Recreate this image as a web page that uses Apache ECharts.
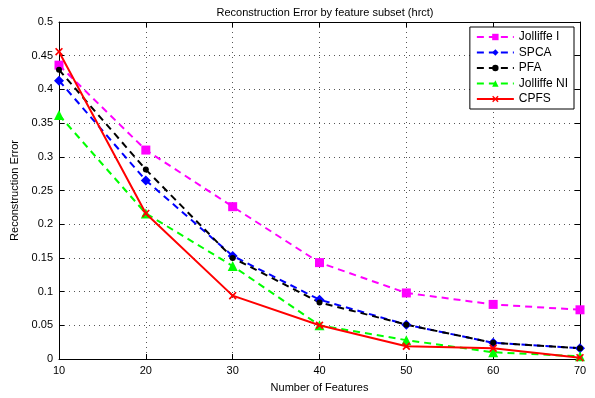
<!DOCTYPE html>
<html><head><meta charset="utf-8">
<script src="https://cdn.jsdelivr.net/npm/echarts@6/dist/echarts.min.js"></script>
<style>html,body{margin:0;padding:0;background:#fff}#c{width:595px;height:398px}</style>
</head><body><div id="c"></div>
<script>
const categories = [10, 20, 30, 40, 50, 60, 70];
const jolliffeI = [0.436, 0.310, 0.226, 0.143, 0.098, 0.081, 0.073];
const spca = [0.413, 0.265, 0.153, 0.088, 0.051, 0.024, 0.016];
const pfa = [0.429, 0.281, 0.150, 0.084, 0.051, 0.024, 0.016];
const jolliffeNI = [0.362, 0.216, 0.138, 0.050, 0.028, 0.010, 0.004];
const cpfs = [0.456, 0.216, 0.094, 0.050, 0.019, 0.016, 0.002];
const yTicks = [0, 0.05, 0.1, 0.15, 0.2, 0.25, 0.3, 0.35, 0.4, 0.45, 0.5];

const font = 'Liberation Sans, Arial, sans-serif';
const xPath = 'path://M0,1.5L1.5,0L5,3.5L8.5,0L10,1.5L6.5,5L10,8.5L8.5,10L5,6.5L1.5,10L0,8.5L3.5,5Z';
function pairs(arr){ return categories.map((c,i)=>[c, arr[i]]); }
function mk(name, data, color, symbol, size, dashed){
  return {
    name, type:'line', data: pairs(data), symbol, symbolSize:size,
    showAllSymbol:true, animation:false,
    lineStyle:{color, width:2, type: dashed ? [7,5] : 'solid'},
    itemStyle:{color},
    z: name==='CPFS'?10:5
  };
}
const chart = echarts.init(document.getElementById('c'));
const axisLine = {show:true, onZero:false, lineStyle:{color:'#000', width:1}};
chart.setOption({
  backgroundColor:'#fff',
  animation:false,
  title:{text:'Reconstruction Error by feature subset (hrct)', left:320, textAlign:'center', top:2,
    textStyle:{fontFamily:font, fontSize:11, fontWeight:'normal', color:'#000'}},
  grid:{left:59, right:15, top:22, bottom:37},
  legend:{
    orient:'vertical', right:21, top:27, itemWidth:37, itemHeight:8, itemGap:3.5,
    borderColor:'#000', borderWidth:1, padding:[4,6,4,6], backgroundColor:'#fff',
    textStyle:{fontFamily:font, fontSize:12, color:'#000'},
    data:['Jolliffe I','SPCA','PFA','Jolliffe NI','CPFS']
  },
  xAxis:[{
    type:'value', min:10, max:70, interval:10,
    name:'Number of Features', nameLocation:'middle', nameGap:23,
    nameTextStyle:{fontFamily:font, fontSize:11, color:'#000'},
    axisLine, axisTick:{show:true, inside:true, length:5, lineStyle:{color:'#000'}},
    axisLabel:{fontFamily:font, fontSize:11, color:'#000', margin:6},
    splitLine:{show:true, lineStyle:{color:'#555', type:[1,4], width:1}}
  },{
    type:'value', min:10, max:70, interval:10, position:'top',
    axisLine, axisTick:{show:true, inside:true, length:5, lineStyle:{color:'#000'}},
    axisLabel:{show:false}, splitLine:{show:false}
  }],
  yAxis:[{
    type:'value', min:0, max:0.5, interval:0.05,
    name:'Reconstruction Error', nameLocation:'middle', nameGap:38,
    nameTextStyle:{fontFamily:font, fontSize:11, color:'#000'},
    axisLine, axisTick:{show:true, inside:true, length:5, lineStyle:{color:'#000'}},
    axisLabel:{fontFamily:font, fontSize:11, color:'#000', margin:6,
      formatter:v=>{const t=yTicks.find(x=>Math.abs(x-v)<1e-9); return t===undefined?'':String(t);}},
    splitLine:{show:true, lineStyle:{color:'#555', type:[1,4], width:1}}
  },{
    type:'value', min:0, max:0.5, interval:0.05, position:'right',
    axisLine, axisTick:{show:true, inside:true, length:5, lineStyle:{color:'#000'}},
    axisLabel:{show:false}, splitLine:{show:false}
  }],
  series:[
    mk('Jolliffe I', jolliffeI, '#ff00ff', 'rect', 9, true),
    mk('SPCA', spca, '#0000ff', 'diamond', 10, true),
    mk('PFA', pfa, '#000000', 'circle', 6, true),
    mk('Jolliffe NI', jolliffeNI, '#00ff00', 'triangle', 10, true),
    mk('CPFS', cpfs, '#ff0000', xPath, 8, false)
  ]
});
</script></body></html>
